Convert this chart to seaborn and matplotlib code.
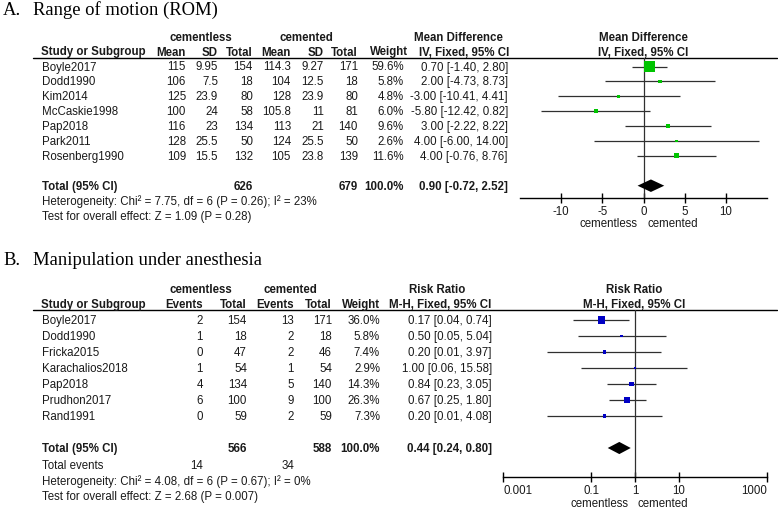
import matplotlib
matplotlib.use("Agg")
import numpy as np
import matplotlib.pyplot as plt
import seaborn as sns

# ---------------- data: A. Range of motion ----------------
studies_a = ["Boyle2017", "Dodd1990", "Kim2014", "McCaskie1998", "Pap2018", "Park2011", "Rosenberg1990"]
less_mean = [115, 106, 125, 100, 116, 128, 109]
less_sd = [9.95, 7.5, 23.9, 24, 23, 25.5, 15.5]
less_n = [154, 18, 80, 58, 134, 50, 132]
cem_mean = [114.3, 104, 128, 105.8, 113, 124, 105]
cem_sd = [9.27, 12.5, 23.9, 11, 21, 25.5, 23.8]
cem_n = [171, 18, 80, 81, 140, 50, 139]
weight_a = [59.6, 5.8, 4.8, 6.0, 9.6, 2.6, 11.6]
md = [0.70, 2.00, -3.00, -5.80, 3.00, 4.00, 4.00]
md_lo = [-1.40, -4.73, -10.41, -12.42, -2.22, -6.00, -0.76]
md_hi = [2.80, 8.73, 4.41, 0.82, 8.22, 14.00, 8.76]
total_a = (626, 679, 0.90, -0.72, 2.52)
het_a = "Heterogeneity: Chi\u00b2 = 7.75, df = 6 (P = 0.26); I\u00b2 = 23%"
test_a = "Test for overall effect: Z = 1.09 (P = 0.28)"
ticks_a = [-10, -5, 0, 5, 10]

# ---------------- data: B. Manipulation under anesthesia ----------------
studies_b = ["Boyle2017", "Dodd1990", "Fricka2015", "Karachalios2018", "Pap2018", "Prudhon2017", "Rand1991"]
less_ev = [2, 1, 0, 1, 4, 6, 0]
less_tot = [154, 18, 47, 54, 134, 100, 59]
cem_ev = [13, 2, 2, 1, 5, 9, 2]
cem_tot = [171, 18, 46, 54, 140, 100, 59]
weight_b = [36.0, 5.8, 7.4, 2.9, 14.3, 26.3, 7.3]
rr = [0.17, 0.50, 0.20, 1.00, 0.84, 0.67, 0.20]
rr_lo = [0.04, 0.05, 0.01, 0.06, 0.23, 0.25, 0.01]
rr_hi = [0.74, 5.04, 3.97, 15.58, 3.05, 1.80, 4.08]
total_b = (566, 588, 0.44, 0.24, 0.80)
events_b = (14, 34)
het_b = "Heterogeneity: Chi\u00b2 = 4.08, df = 6 (P = 0.67); I\u00b2 = 0%"
test_b = "Test for overall effect: Z = 2.68 (P = 0.007)"
ticks_b = [0.001, 0.1, 1, 10, 1000]
ticklabels_b = ["0.001", "0.1", "1", "10", "1000"]

# ---------------- setup ----------------
sns.set_theme(style="white")
plt.rcParams["font.family"] = ["Liberation Sans", "DejaVu Sans"]
W, H = 778, 510
INK = "#1a1a1a"
FS = 8.3

fig = plt.figure(figsize=(W / 100, H / 100), dpi=100)
bg = fig.add_axes([0, 0, 1, 1])
bg.set_xlim(0, W)
bg.set_ylim(H, 0)
bg.axis("off")


def txt(x, y, s, ha="left", bold=False):
    bg.text(x, y, s, ha=ha, va="center", fontsize=FS, color=INK,
            fontweight="bold" if bold else "normal")


def title(y, letter, s):
    kw = dict(fontsize=13.4, color="black", va="baseline",
              family=["Liberation Serif", "DejaVu Serif"])
    bg.text(3, y, letter, **kw)
    bg.text(33, y, s, **kw)


def px_axes(left, top, right, bottom):
    return fig.add_axes([left / W, 1 - bottom / H, (right - left) / W, (bottom - top) / H])


def forest(ax, est, lo, hi, weights, k, color, tot, diam_h, y0, dy, top, bottom):
    rows = np.arange(len(est))
    ax.set_ylim((bottom - y0) / dy, (top - y0) / dy)
    ax.axvline(1 if ax.get_xscale() == "log" else 0, color="#303030", lw=0.9, zorder=1)
    ax.hlines(rows, lo, hi, color="#303030", lw=0.9, zorder=2)
    sizes = (k * np.sqrt(np.array(weights)) * 0.72) ** 2
    sns.scatterplot(x=est, y=rows, ax=ax, marker="s", s=sizes, color=color,
                    linewidth=0, zorder=3, legend=False)
    ty = 8
    ax.fill([tot[3], tot[2], tot[4], tot[2]], [ty, ty - diam_h, ty, ty + diam_h],
            color="black", lw=0, zorder=3)
    for s in ["top", "left", "right"]:
        ax.spines[s].set_visible(False)
    ax.spines["bottom"].set_color("black")
    ax.spines["bottom"].set_linewidth(1)
    ax.set_yticks([])
    ax.set_facecolor("none")
    ax.tick_params(axis="x", direction="inout", length=7, width=1, color="black",
                   labelsize=FS, labelcolor=INK, pad=1.5, bottom=True)
    ax.tick_params(axis="x", which="minor", bottom=False)
    ax.set_xlabel("")
    ax.set_ylabel("")


# ================= Panel A =================
title(15, "A.", "Range of motion (ROM)")
y0a, dya = 67.5, 14.9
txt(201, 38, "cementless", "center", True)
txt(306, 38, "cemented", "center", True)
txt(458, 38, "Mean Difference", "center", True)
txt(643, 38, "Mean Difference", "center", True)
hy = 52.5
txt(41, hy, "Study or Subgroup", bold=True)
for x, s in [(186, "Mean"), (218, "SD"), (253, "Total"), (291, "Mean"),
             (324, "SD"), (358, "Total"), (408, "Weight"), (509, "IV, Fixed, 95% CI")]:
    txt(x, hy, s, "right", True)
txt(643, hy, "IV, Fixed, 95% CI", "center", True)
bg.plot([33, 777], [59, 59], color="black", lw=1)

for i, name in enumerate(studies_a):
    y = y0a + i * dya
    txt(42, y, name)
    cells = [(186, f"{less_mean[i]:g}"), (218, f"{less_sd[i]:g}"), (253, f"{less_n[i]}"),
             (291, f"{cem_mean[i]:g}"), (324, f"{cem_sd[i]:g}"), (358, f"{cem_n[i]}"),
             (404, f"{weight_a[i]:.1f}%"),
             (508, f"{md[i]:.2f} [{md_lo[i]:.2f}, {md_hi[i]:.2f}]")]
    for x, s in cells:
        txt(x, y, s, "right")
yt = y0a + 8 * dya
txt(42, yt, "Total (95% CI)", bold=True)
txt(253, yt, f"{total_a[0]}", "right", True)
txt(358, yt, f"{total_a[1]}", "right", True)
txt(404, yt, "100.0%", "right", True)
txt(508, yt, f"{total_a[2]:.2f} [{total_a[3]:.2f}, {total_a[4]:.2f}]", "right", True)
txt(42, 202, het_a)
txt(42, 217, test_a)

axa = px_axes(520, 59, 767, 199)
axa.set_xlim(-15, 15)
forest(axa, md, md_lo, md_hi, weight_a, 1.48, "#00c400", total_a, 0.42, y0a, dya, 59, 199)
axa.set_xticks(ticks_a)
axa.set_xticklabels([str(t) for t in ticks_a])
txt(638, 224, "cementless", "right")
txt(648, 224, "cemented", "left")

# ================= Panel B =================
title(265, "B.", "Manipulation under anesthesia")
y0b, dyb = 321, 16
txt(201, 290, "cementless", "center", True)
txt(290, 290, "cemented", "center", True)
txt(437, 290, "Risk Ratio", "center", True)
txt(634, 290, "Risk Ratio", "center", True)
hy = 305.5
txt(41, hy, "Study or Subgroup", bold=True)
for x, s in [(203, "Events"), (247, "Total"), (294, "Events"), (332, "Total"),
             (380, "Weight"), (491, "M-H, Fixed, 95% CI")]:
    txt(x, hy, s, "right", True)
txt(634, hy, "M-H, Fixed, 95% CI", "center", True)
bg.plot([33, 777], [311, 311], color="black", lw=1)

for i, name in enumerate(studies_b):
    y = y0b + i * dyb
    txt(42, y, name)
    cells = [(203, f"{less_ev[i]}"), (247, f"{less_tot[i]}"), (294, f"{cem_ev[i]}"),
             (332, f"{cem_tot[i]}"), (380, f"{weight_b[i]:.1f}%"),
             (492, f"{rr[i]:.2f} [{rr_lo[i]:.2f}, {rr_hi[i]:.2f}]")]
    for x, s in cells:
        txt(x, y, s, "right")
yt = y0b + 8 * dyb
txt(42, yt, "Total (95% CI)", bold=True)
txt(247, yt, f"{total_b[0]}", "right", True)
txt(332, yt, f"{total_b[1]}", "right", True)
txt(380, yt, "100.0%", "right", True)
txt(492, yt, f"{total_b[2]:.2f} [{total_b[3]:.2f}, {total_b[4]:.2f}]", "right", True)
txt(42, 466, "Total events")
txt(203, 466, f"{events_b[0]}", "right")
txt(294, 466, f"{events_b[1]}", "right")
txt(42, 482, het_b)
txt(42, 497, test_b)

axb = px_axes(503, 311, 767, 478)
axb.set_xscale("log")
axb.set_xlim(1e-3, 1e3)
forest(axb, rr, rr_lo, rr_hi, weight_b, 1.18, "#0000c4", total_b, 0.38, y0b, dyb, 311, 478)
axb.set_xticks(ticks_b)
axb.set_xticklabels(ticklabels_b)
labs = axb.get_xticklabels()
labs[0].set_horizontalalignment("left")
labs[-1].set_horizontalalignment("right")
txt(629, 504, "cementless", "right")
txt(638, 504, "cemented", "left")

fig.savefig("out.png", dpi=100)
